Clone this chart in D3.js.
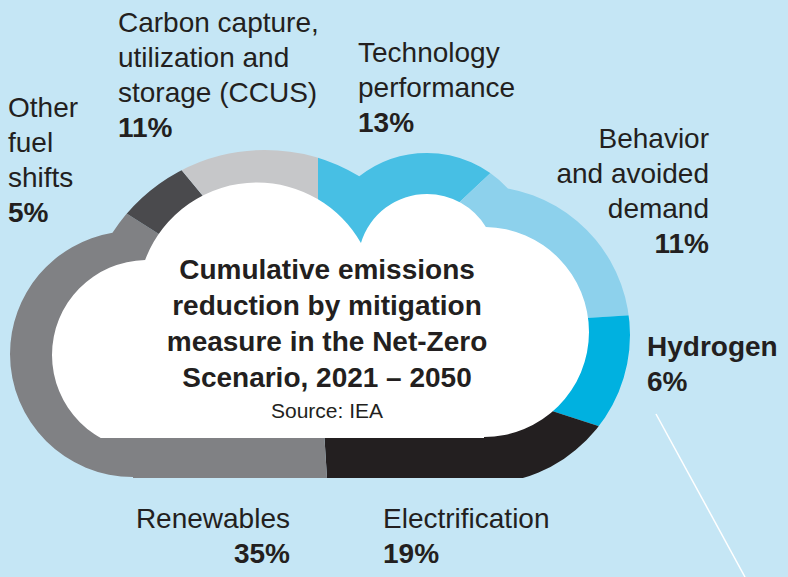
<!DOCTYPE html>
<html>
<head>
<meta charset="utf-8">
<script src="https://cdn.jsdelivr.net/npm/d3@7/dist/d3.min.js"></script>
<style>
  body { margin: 0; background: #c5e6f5; }
  svg { display: block; }
  text { font-family: "Liberation Sans", Arial, sans-serif; fill: #231f20; }
</style>
</head>
<body>
<svg id="chart" width="788" height="577"></svg>
<script>
// data, clockwise from the top of the cloud
const measures = ['Technology performance', 'Behavior and avoided demand', 'Hydrogen',
                  'Electrification', 'Renewables', 'Other fuel shifts', 'CCUS'];
const shares   = [13, 11, 6, 19, 35, 5, 11];
const nameLines = [
  ['Technology', 'performance'],
  ['Behavior', 'and avoided', 'demand'],
  ['Hydrogen'],
  ['Electrification'],
  ['Renewables'],
  ['Other', 'fuel', 'shifts'],
  ['Carbon capture,', 'utilization and', 'storage (CCUS)']
];
const titleLines = ['Cumulative emissions', 'reduction by mitigation',
                    'measure in the Net-Zero', 'Scenario, 2021 \u2013 2050'];
const sourceText = 'Source: IEA';

// styles and layout
const colors = ['#47bfe4', '#8dd1ec', '#00b1e0', '#231f20', '#808184', '#4a4a4d', '#c6c7c9'];
const labelPos = [
  { x: 358, y: 62,  anchor: 'start' },
  { x: 709, y: 148, anchor: 'end' },
  { x: 647, y: 356, anchor: 'start', bold: true },
  { x: 383, y: 528, anchor: 'start' },
  { x: 290, y: 528, anchor: 'end' },
  { x: 8,   y: 117, anchor: 'start' },
  { x: 118, y: 32,  anchor: 'start' }
];
const LINE_H = 35;
const CENTER = [318, 335];

// cloud outlines (union of lobes + a body), cut flat at the bottom
const OUTER = {
  lobes: [[133, 354, 123], [265, 332, 182], [427, 263, 110], [481, 335, 149]],
  body: [133, 280, 348, 200],
  bottom: 478
};
const INNER = {
  lobes: [[147, 355, 95], [257, 302, 119.5], [427, 263, 69], [484, 332, 105]],
  body: [147, 280, 337, 160],
  bottom: 438
};

const svg  = d3.select('#chart');
const defs = svg.append('defs');

function cloudClip(id, shape) {
  const cp = defs.append('clipPath').attr('id', id);
  cp.selectAll('circle').data(shape.lobes).enter().append('circle')
    .attr('cx', d => d[0]).attr('cy', d => d[1]).attr('r', d => d[2]);
  cp.append('rect')
    .attr('x', shape.body[0]).attr('y', shape.body[1])
    .attr('width', shape.body[2]).attr('height', shape.body[3]);
  defs.append('clipPath').attr('id', id + '-cut')
    .append('rect').attr('x', 0).attr('y', 0).attr('width', 788).attr('height', shape.bottom);
}
cloudClip('outer', OUTER);
cloudClip('inner', INNER);

// slices of the cloud ring
const pie = d3.pie().sort(null).startAngle(0).endAngle(2 * Math.PI);
const arc = d3.arc().innerRadius(0).outerRadius(420);

const ring = svg.append('g').attr('clip-path', 'url(#outer-cut)')
  .append('g').attr('clip-path', 'url(#outer)')
  .append('g').attr('transform', `translate(${CENTER[0]},${CENTER[1]})`);

ring.selectAll('path')
  .data(pie(shares))
  .enter().append('path')
    .attr('class', 'slice')
    .attr('d', arc)
    .attr('fill', (d, i) => colors[i]);

// white inner cloud
svg.append('g').attr('clip-path', 'url(#inner-cut)')
  .append('rect')
    .attr('clip-path', 'url(#inner)')
    .attr('x', 0).attr('y', 0).attr('width', 788).attr('height', 577)
    .attr('fill', '#ffffff');

// leader line below hydrogen
svg.append('line')
  .attr('x1', 656).attr('y1', 414).attr('x2', 745).attr('y2', 577)
  .attr('stroke', '#ffffff').attr('stroke-width', 1.5);

// labels
const labels = svg.selectAll('.label')
  .data(measures)
  .enter().append('text')
    .attr('class', 'label')
    .attr('text-anchor', (d, i) => labelPos[i].anchor)
    .attr('font-size', 28);

labels.each(function(d, i) {
  const t = d3.select(this);
  const p = labelPos[i];
  const lines = nameLines[i];
  lines.forEach((line, j) => {
    t.append('tspan')
      .attr('x', p.x).attr('y', p.y + j * LINE_H)
      .attr('font-weight', p.bold ? 'bold' : 'normal')
      .text(line);
  });
  t.append('tspan')
    .attr('x', p.x).attr('y', p.y + lines.length * LINE_H)
    .attr('font-weight', 'bold')
    .text(`${shares[i]}%`);
});

// title in the cloud
svg.append('text')
  .attr('text-anchor', 'middle')
  .attr('font-size', 28)
  .attr('font-weight', 'bold')
  .selectAll('tspan')
  .data(titleLines)
  .enter().append('tspan')
    .attr('x', 327)
    .attr('y', (d, i) => 279 + i * 36)
    .text(d => d);

svg.append('text')
  .attr('text-anchor', 'middle')
  .attr('x', 327).attr('y', 418)
  .attr('font-size', 21)
  .text(sourceText);
</script>
</body>
</html>
